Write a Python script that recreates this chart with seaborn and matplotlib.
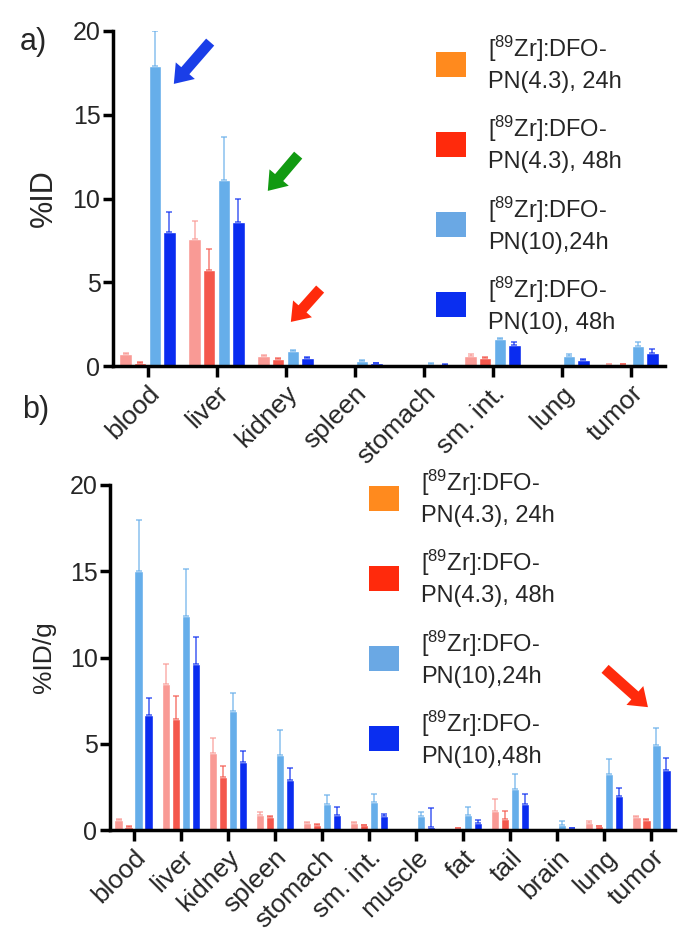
import pandas as pd
import seaborn as sns
import matplotlib.pyplot as plt
from matplotlib.patches import Patch, FancyArrowPatch

# ---- data ----
organs_a = ["blood", "liver", "kidney", "spleen", "stomach", "sm. int.", "lung", "tumor"]
a_pn43_24 = [0.74, 7.57, 0.58, 0.02, 0.02, 0.60, 0.03, 0.12]
a_pn43_24_err = [0.05, 1.10, 0.05, 0.0, 0.0, 0.10, 0.0, 0.02]
a_pn43_48 = [0.18, 5.76, 0.44, 0.02, 0.02, 0.50, 0.03, 0.10]
a_pn43_48_err = [0.03, 1.24, 0.05, 0.0, 0.0, 0.05, 0.0, 0.02]
a_pn10_24 = [17.9, 11.1, 0.88, 0.30, 0.12, 1.61, 0.60, 1.20]
a_pn10_24_err = [2.1, 2.55, 0.06, 0.05, 0.03, 0.05, 0.14, 0.21]
a_pn10_48 = [8.0, 8.6, 0.50, 0.16, 0.08, 1.25, 0.36, 0.80]
a_pn10_48_err = [1.2, 1.4, 0.04, 0.03, 0.02, 0.20, 0.08, 0.20]

organs_b = ["blood", "liver", "kidney", "spleen", "stomach", "sm. int.",
            "muscle", "fat", "tail", "brain", "lung", "tumor"]
b_pn43_24 = [0.58, 8.49, 4.46, 0.85, 0.39, 0.39, 0.02, 0.03, 1.08, 0.0, 0.41, 0.73]
b_pn43_24_err = [0.05, 1.16, 0.87, 0.21, 0.05, 0.05, 0.0, 0.0, 0.72, 0.0, 0.13, 0.06]
b_pn43_48 = [0.19, 6.43, 3.09, 0.73, 0.29, 0.27, 0.05, 0.12, 0.66, 0.0, 0.23, 0.60]
b_pn43_48_err = [0.02, 1.35, 0.64, 0.10, 0.03, 0.03, 0.0, 0.02, 0.42, 0.0, 0.03, 0.05]
b_pn10_24 = [15.0, 12.39, 6.89, 4.34, 1.51, 1.60, 0.79, 0.85, 2.39, 0.31, 3.26, 4.90]
b_pn10_24_err = [2.95, 2.76, 1.03, 1.45, 0.52, 0.48, 0.25, 0.48, 0.85, 0.23, 0.87, 1.0]
b_pn10_48 = [6.68, 9.61, 3.96, 2.90, 0.85, 0.79, 0.19, 0.41, 1.50, 0.12, 1.95, 3.49]
b_pn10_48_err = [1.0, 1.59, 0.63, 0.67, 0.48, 0.16, 1.08, 0.15, 0.58, 0.02, 0.48, 0.71]

series = ["pn43_24", "pn43_48", "pn10_24", "pn10_48"]
bar_colors = ["#f99a95", "#f4574c", "#66aeea", "#0a2cf0"]
legend_colors = ["#ff8a1e", "#ff2a0c", "#6aa8e4", "#0a2ef0"]
labels_a = ["[$^{89}$Zr]:DFO-\nPN(4.3), 24h", "[$^{89}$Zr]:DFO-\nPN(4.3), 48h",
            "[$^{89}$Zr]:DFO-\nPN(10),24h", "[$^{89}$Zr]:DFO-\nPN(10), 48h"]
labels_b = ["[$^{89}$Zr]:DFO-\nPN(4.3), 24h", "[$^{89}$Zr]:DFO-\nPN(4.3), 48h",
            "[$^{89}$Zr]:DFO-\nPN(10),24h", "[$^{89}$Zr]:DFO-\nPN(10),48h"]

sns.set_style("ticks")
plt.rcParams['font.family'] = ['Liberation Sans', 'DejaVu Sans']
plt.rcParams['mathtext.fontset'] = 'custom'
plt.rcParams['mathtext.rm'] = 'Liberation Sans'
plt.rcParams['mathtext.default'] = 'regular'


def long_table(organs, vals, errs):
    rows = []
    for s, v, e in zip(series, vals, errs):
        for o, vv, ee in zip(organs, v, e):
            rows.append({"organ": o, "series": s, "value": vv, "err": ee})
    return pd.DataFrame(rows)


def draw_panel(ax, organs, vals, errs, ylabel, ylabel_size):
    df = long_table(organs, vals, errs)
    sns.barplot(data=df, x="organ", y="value", hue="series", hue_order=series,
                palette=bar_colors, width=0.85, gap=0.18, legend=False,
                saturation=1, ax=ax)
    # upward error bars on each bar
    for cont, col, e in zip(ax.containers, bar_colors, errs):
        for bar, ee in zip(cont, e):
            if ee <= 0:
                continue
            x = bar.get_x() + bar.get_width() / 2
            h = bar.get_height()
            ax.errorbar(x, h, yerr=[[0], [ee]], fmt="none", ecolor=col,
                        alpha=0.7, elinewidth=1.2, capsize=2, capthick=1.2)
    ax.set_xlim(-0.5, len(organs) - 0.5)
    ax.set_ylim(0, 20)
    ax.set_yticks([0, 5, 10, 15, 20])
    ax.set_xlabel("")
    ax.set_ylabel(ylabel, fontsize=ylabel_size, labelpad=10)
    ax.tick_params(axis="y", labelsize=18, width=2.5, length=7, color="black", pad=2)
    ax.tick_params(axis="x", labelsize=19, width=2.5, length=8, color="black", pad=3)
    ax.set_xticks(range(len(organs)))
    ax.set_xticklabels(organs, rotation=45, ha="right", rotation_mode="anchor")
    for sp in ["left", "bottom"]:
        ax.spines[sp].set_linewidth(2.5)
        ax.spines[sp].set_color("black")
    sns.despine(ax=ax)


fig = plt.figure(figsize=(6.92, 9.44), dpi=100)
W, H = 692, 944

ax_a = fig.add_axes([113 / W, 1 - 366 / H, (665 - 113) / W, (366 - 31) / H])
ax_b = fig.add_axes([110 / W, 1 - 830 / H, (675 - 110) / W, (830 - 485) / H])

draw_panel(ax_a, organs_a,
           [a_pn43_24, a_pn43_48, a_pn10_24, a_pn10_48],
           [a_pn43_24_err, a_pn43_48_err, a_pn10_24_err, a_pn10_48_err], "%ID", 22)
draw_panel(ax_b, organs_b,
           [b_pn43_24, b_pn43_48, b_pn10_24, b_pn10_48],
           [b_pn43_24_err, b_pn43_48_err, b_pn10_24_err, b_pn10_48_err], "%ID/g", 19)

handles = [Patch(facecolor=c, edgecolor="none") for c in legend_colors]
for labels, anchor in [(labels_a, (436, 34)), (labels_b, (369, 468))]:
    leg = fig.legend(handles, labels, loc="upper left",
                     bbox_to_anchor=(anchor[0] / W, 1 - anchor[1] / H),
                     frameon=False, fontsize=17, handlelength=1.25, handleheight=1.25,
                     labelspacing=0.9, handletextpad=0.95, borderpad=0,
                     borderaxespad=0)
    for t in leg.get_texts():
        t.set_linespacing(1.4)

fig.text(20 / W, 1 - 42 / H, "a)", fontsize=22, va="center")
fig.text(22 / W, 1 - 410 / H, "b)", fontsize=22, va="center")

# block arrows (tail -> tip, in figure pixels from top-left)
arrows = [((212, 40), (172, 86), "#1a3ee8"),
          ((300, 153), (266, 193), "#119a11"),
          ((322, 287), (289, 324), "#ff2a0c"),
          ((603, 667), (650, 709), "#ff2a0c")]
for (x0, y0), (x1, y1), col in arrows:
    fig.add_artist(FancyArrowPatch(
        (x0 / W, 1 - y0 / H), (x1 / W, 1 - y1 / H), transform=fig.transFigure,
        arrowstyle="simple,tail_width=0.55,head_width=1.3,head_length=0.9",
        mutation_scale=14, color=col, lw=0))

fig.savefig("out.png", dpi=100)
